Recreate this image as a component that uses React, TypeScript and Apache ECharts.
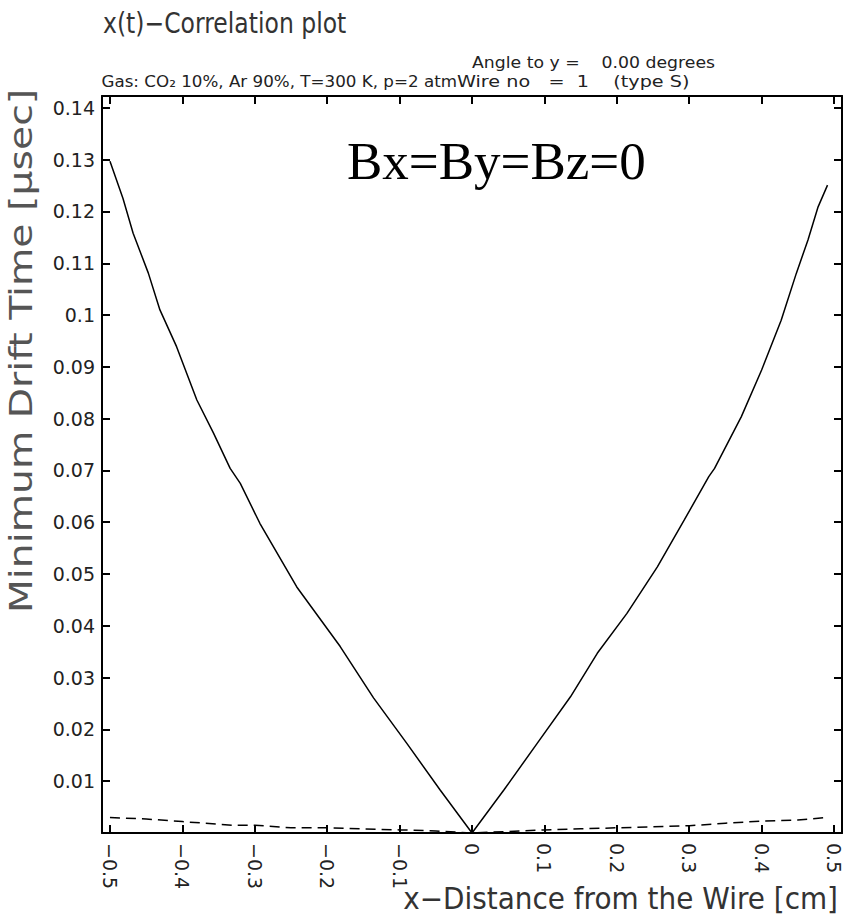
import React, { useEffect, useRef } from "react";
import * as echarts from "echarts";

const xTicks = [-0.5, -0.4, -0.3, -0.2, -0.1, 0, 0.1, 0.2, 0.3, 0.4, 0.5];
const yTicks = [0.01, 0.02, 0.03, 0.04, 0.05, 0.06, 0.07, 0.08, 0.09, 0.1, 0.11, 0.12, 0.13, 0.14];

// Minimum drift time (solid)
const solidX = [
  -0.5, -0.482, -0.468, -0.447, -0.431, -0.408, -0.38, -0.357, -0.334, -0.32, -0.293, -0.242, -0.182, -0.136, -0.09, -0.044, 0,
  0.044, 0.09, 0.136, 0.173, 0.214, 0.256, 0.293, 0.327, 0.335, 0.372, 0.4, 0.427, 0.448, 0.464, 0.478, 0.491,
];
const solidT = [
  0.1297, 0.1225, 0.1158, 0.1081, 0.101, 0.0939, 0.0836, 0.0772, 0.0704, 0.0675, 0.0598, 0.0475, 0.036, 0.0261, 0.0173, 0.0083, 0,
  0.0083, 0.0173, 0.0263, 0.0347, 0.0424, 0.0514, 0.0604, 0.0688, 0.0704, 0.0804, 0.0894, 0.099, 0.1081, 0.1145, 0.1209, 0.1251,
];

// Spread (dashed)
const dashX = [-0.5, -0.45, -0.4, -0.33, -0.3, -0.25, -0.2, -0.15, -0.1, -0.05, 0, 0.05, 0.1, 0.15, 0.2, 0.25, 0.3, 0.35, 0.4, 0.45, 0.49];
const dashT = [0.003, 0.0027, 0.0022, 0.0015, 0.0015, 0.001, 0.001, 0.0008, 0.0006, 0.0004, 0, 0.0003, 0.0006, 0.0008, 0.001, 0.0012, 0.0014, 0.0019, 0.0023, 0.0025, 0.003];

const TICK_FONT = "DejaVu Sans";

export default function App() {
  const ref = useRef<HTMLDivElement>(null);

  useEffect(() => {
    if (!ref.current) return;
    const chart = echarts.init(ref.current, null, { renderer: "svg" });

    const axisLine = { show: true, onZero: false, lineStyle: { color: "#000", width: 2 } };
    const tickStyle = { color: "#000", width: 2 };

    const xAxisBase = (position: string, showLabel: boolean) => ({
      type: "value",
      position,
      min: -0.511,
      max: 0.511,
      axisLine,
      axisTick: { show: true, inside: true, length: 8, customValues: xTicks, lineStyle: tickStyle },
      axisLabel: {
        show: showLabel,
        customValues: xTicks,
        rotate: -90,
        margin: 10,
        color: "#222",
        fontFamily: TICK_FONT,
        fontSize: 19,
        formatter: (v: number) => (v < 0 ? "\u2212" : "") + String(Math.abs(Math.round(v * 10) / 10)),
      },
      splitLine: { show: false },
    });

    const yAxisBase = (position: string, showLabel: boolean) => ({
      type: "value",
      position,
      min: 0,
      max: 0.1423,
      axisLine,
      axisTick: { show: true, inside: true, length: 8, customValues: yTicks, lineStyle: tickStyle },
      axisLabel: {
        show: showLabel,
        customValues: yTicks,
        margin: 7,
        color: "#222",
        fontFamily: TICK_FONT,
        fontSize: 19,
        formatter: (v: number) => String(Math.round(v * 100) / 100),
      },
      splitLine: { show: false },
    });

    chart.setOption({
      animation: false,
      backgroundColor: "#fff",
      grid: { left: 102, right: 2, top: 96, bottom: 85, containLabel: false },
      xAxis: [xAxisBase("bottom", true), xAxisBase("top", false)],
      yAxis: [yAxisBase("left", true), yAxisBase("right", false)],
      series: [
        {
          type: "line",
          name: "Minimum drift time",
          xAxisIndex: 0,
          yAxisIndex: 0,
          data: solidX.map((x, i) => [x, solidT[i]]),
          showSymbol: false,
          symbol: "none",
          lineStyle: { color: "#000", width: 1.5 },
        },
        {
          type: "line",
          name: "Spread",
          xAxisIndex: 0,
          yAxisIndex: 0,
          data: dashX.map((x, i) => [x, dashT[i]]),
          showSymbol: false,
          symbol: "none",
          lineStyle: { color: "#000", width: 1.5, type: [10, 6] },
        },
      ],
      graphic: [
        {
          type: "text",
          x: 103,
          y: 23,
          scaleX: 0.84,
          style: {
            text: "x(t)\u2212Correlation plot",
            font: `28px ${TICK_FONT}`,
            fill: "#333",
            textAlign: "left",
            textVerticalAlign: "middle",
          },
        },
        {
          type: "text",
          x: 472,
          y: 63,
          scaleX: 1.08,
          style: {
            text: "Angle to y =    0.00 degrees",
            font: `16px ${TICK_FONT}`,
            fill: "#222",
            textAlign: "left",
            textVerticalAlign: "middle",
          },
        },
        {
          type: "text",
          x: 457,
          y: 82,
          scaleX: 1.045,
          style: {
            text: "Gas: CO\u2082 10%, Ar 90%, T=300 K, p=2 atm",
            font: `16px ${TICK_FONT}`,
            fill: "#222",
            textAlign: "right",
            textVerticalAlign: "middle",
          },
        },
        {
          type: "text",
          x: 457,
          y: 82,
          scaleX: 1.2,
          style: {
            text: "Wire no   =  1    (type S)",
            font: `16px ${TICK_FONT}`,
            fill: "#222",
            textAlign: "left",
            textVerticalAlign: "middle",
          },
        },
        {
          type: "text",
          x: 21,
          y: 351,
          rotation: Math.PI / 2,
          scaleX: 1.23,
          style: {
            text: "Minimum Drift Time [\u03bcsec]",
            font: `32px ${TICK_FONT}`,
            fill: "#555",
            textAlign: "center",
            textVerticalAlign: "middle",
          },
        },
        {
          type: "text",
          x: 838,
          y: 899,
          scaleX: 0.93,
          style: {
            text: "x\u2212Distance from the Wire [cm]",
            font: `30px ${TICK_FONT}`,
            fill: "#333",
            textAlign: "right",
            textVerticalAlign: "middle",
          },
        },
        {
          type: "text",
          x: 347,
          y: 161,
          style: {
            text: "Bx=By=Bz=0",
            font: `53px "Liberation Serif"`,
            fill: "#000",
            textAlign: "left",
            textVerticalAlign: "middle",
          },
        },
      ],
    });

    return () => chart.dispose();
  }, []);

  return (
    <div
      ref={ref}
      style={{ position: "fixed", left: 0, top: 0, width: 844, height: 918, background: "#fff" }}
    />
  );
}
